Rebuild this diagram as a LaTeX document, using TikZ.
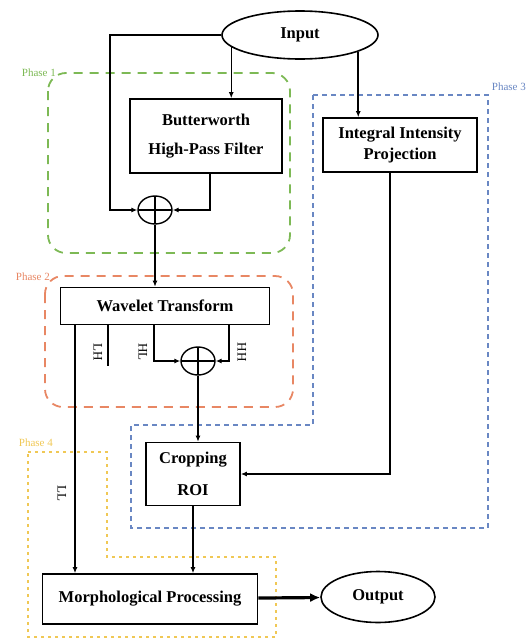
\documentclass[tikz,border=0pt]{standalone}
\usepackage{fontspec}
\setmainfont{Liberation Serif}
\usepackage{tikz}
\usetikzlibrary{arrows.meta, positioning, shapes.geometric}
\usepackage{xcolor}

\definecolor{phaseone}{RGB}{125,185,85}
\definecolor{phasetwo}{RGB}{232,135,100}
\definecolor{phasethree}{RGB}{105,135,195}
\definecolor{phasefour}{RGB}{240,200,85}

\begin{document}
\begin{tikzpicture}[ 
x=1pt, y=-1pt,
box/.style={draw, 
line width=1.6pt, 
rectangle, 
inner sep=0pt, 
align=center, 
font=\bfseries\fontsize{16.5}{20}\selectfont}, 
oval/.style={draw, 
line width=1.6pt, 
ellipse, 
inner sep=0pt, 
font=\bfseries\fontsize{16.5}{20}\selectfont}, 
sum/.style={draw, 
line width=1.4pt, 
ellipse, 
minimum width=34pt, 
minimum height=28pt, 
inner sep=0pt, 
path picture={\draw[line width=1.4pt] (path picture bounding box.north) -- (path picture bounding box.south) (path picture bounding box.west) -- (path picture bounding box.east);}}, 
arrow/.style={-{Latex[length=6pt,width=5pt]}, line width=1.5pt}, 
band/.style={rotate=-90, font=\fontsize{13}{13}\selectfont}, 
phase/.style={font=\fontsize{11}{11}\selectfont, inner sep=1pt} 
]

\useasboundingbox (0,0) rectangle (528,643);

% phase regions
\draw[phaseone, line width=1.8pt, dash pattern=on 9pt off 7pt, rounded corners=18pt] (48,73) rectangle (290,253);
\draw[phasetwo, line width=1.8pt, dash pattern=on 9pt off 7pt, rounded corners=18pt] (45,276) rectangle (293,407);
\draw[phasethree, line width=1.4pt, dash pattern=on 5pt off 4pt] (313,95) -- (488,95) -- (488,528) -- (131,528) -- (131,425) -- (313,425) -- cycle;
\draw[phasefour, line width=1.2pt, dash pattern=on 3pt off 4pt] (28,452) -- (107,452) -- (107,557) -- (276,557) -- (276,637) -- (28,637) -- cycle;

\node[phase, text=phaseone, anchor=east] (phase1) at (57,73) {Phase 1};
\node[phase, text=phasetwo, anchor=east] (phase2) at (51,277) {Phase 2};
\node[phase, text=phasethree, anchor=east] (phase3) at (527,87) {Phase 3};
\node[phase, text=phasefour, anchor=east] (phase4) at (54,443) {Phase 4};

% blocks
\node[oval, minimum width=156pt, minimum height=48pt] (input) at (300,35) {Input}; 
\node[box, minimum width=152pt, minimum height=74pt] (bwf) at (206,136) {Butterworth\\[9pt]High-Pass Filter}; 
\node[box, minimum width=154pt, minimum height=54pt] (iip) at (400,145) {Integral Intensity\\[1pt]Projection}; 
\node[sum] (sum1) at (155,210) {}; 
\node[box, minimum width=209pt, minimum height=37pt] (wt) at (165,306) {Wavelet Transform}; 
\node[sum] (sum2) at (198,361) {}; 
\node[box, minimum width=94pt, minimum height=63pt] (crop) at (193,474) {Cropping\\[12pt]ROI}; 
\node[box, minimum width=215pt, minimum height=50pt] (morph) at (150,599) {Morphological Processing}; 
\node[oval, minimum width=114pt, minimum height=51pt] (output) at (378,597) {Output};

\coordinate (loop) at (110,35);
\coordinate (llx) at (75,0);
\coordinate (lhend) at (108,366);
\coordinate (hlx) at (154,0);
\coordinate (hhx) at (229,0);

% sub-band labels
\node[band] (ll) at (62,493) {LL};
\node[band] (lh) at (98,352) {LH};
\node[band] (hl) at (143,352) {HL};
\node[band] (hh) at (242,352) {HH};

\draw[arrow] (input.190) -- (input.190 |- bwf.north); 
\draw[arrow] (input.344) -- (input.344 |- iip.north); 
\draw[arrow] (input.west) -- (loop) |- (sum1.west); 
\draw[arrow] ([xshift=4pt]bwf.south) |- (sum1.east); 
\draw[arrow] (sum1.south) -- (sum1.south |- wt.north); 
\draw[arrow] (wt.south -| llx) -- (llx |- morph.north); 
\draw[line width=1.5pt] (wt.south -| lhend) -- (lhend); 
\draw[arrow] (wt.south -| hlx) |- (sum2.west); 
\draw[arrow] (wt.south -| hhx) |- (sum2.east); 
\draw[arrow] (sum2.south) -- (sum2.south |- crop.north); 
\draw[arrow] ([xshift=-10pt]iip.south) |- (crop.east); 
\draw[arrow] (crop.south) -- (crop.south |- morph.north); 
\draw[-{Latex[length=10pt,width=9pt]}, line width=3.2pt] (morph) -- (output);

\end{tikzpicture}
\end{document}
